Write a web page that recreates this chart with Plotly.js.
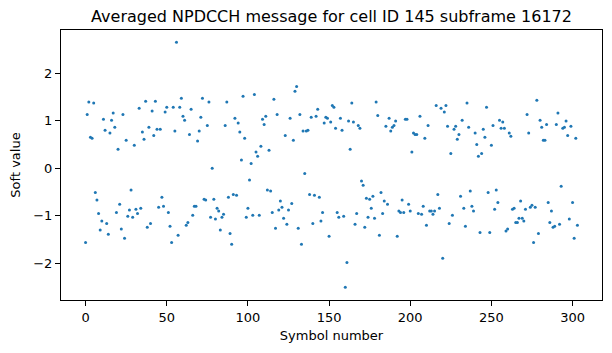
<!DOCTYPE html>
<html>
<head>
<meta charset="utf-8">
<script src="https://cdn.plot.ly/plotly-3.0.1.min.js"></script>
<style>
  html, body { margin: 0; padding: 0; background: #fff; }
  #chart { width: 612px; height: 353px; }
</style>
</head>
<body>
<div id="chart"></div>
<script>
// Soft values per symbol (symbol numbers 0..303)
const softValues = [
  -1.56, 1.13, 1.39, 0.65, 0.63, 1.37, -0.51, -0.67, -0.95, -1.30,
  -1.11, 1.03, 0.80, -1.16, -1.39, 0.74, 1.01, 1.16, 0.86, -0.93,
  0.40, -0.76, -1.28, 1.13, -1.47, 0.59, -1.01, -0.88, -0.46, -1.03,
  0.48, -0.86, -0.95, 1.26, -0.84, 0.76, 0.61, 1.41, -1.24, 0.86,
  -1.16, 1.20, 0.69, 1.41, 0.82, -0.82, 0.82, -0.61, -0.80, 1.18,
  1.28, -0.93, -1.22, -1.56, 1.28, 0.78, 2.65, -1.41, 1.28, 1.47,
  1.09, 1.01, -1.20, -1.14, 0.71, 1.24, -0.99, -0.80, -0.80, 0.57,
  0.78, 1.07, 1.47, -0.65, -0.67, 0.90, 1.39, -1.03, 0.00, -0.65,
  -1.07, -0.84, -0.90, -1.30, -1.03, -0.97, 0.90, 1.39, -0.61, -1.37,
  -1.60, -0.55, 1.05, -0.57, 0.95, 0.76, 0.17, 1.51, 0.63, -1.03,
  -0.84, -0.25, 0.10, -0.99, 1.55, 0.34, 0.25, -0.99, 0.46, 1.03,
  0.92, 1.09, -0.46, 0.38, -0.48, -0.93, 1.45, -1.26, 1.13, -0.88,
  -0.69, -0.82, -1.05, 0.69, -1.18, -0.88, 1.05, -0.74, 0.59, 1.62,
  1.72, -1.26, 1.13, -1.60, 0.78, -0.11, 0.78, 0.80, -0.55, 1.07,
  -1.16, -0.57, 1.09, 1.24, -0.61, -1.11, -0.93, 0.95, 1.07, 1.05,
  -1.43, 0.97, 1.32, 1.28, 0.84, -0.93, -1.03, 1.05, 0.80, -1.01,
  -2.50, -1.98, 0.99, 0.40, 1.37, 0.97, -1.18, -0.95, 0.90, 0.84,
  -0.27, -0.36, -1.24, -0.63, -1.03, -0.65, -0.84, -0.59, -1.05, 1.39,
  1.11, -1.41, -0.51, -0.95, -0.69, 0.88, -0.76, 1.05, 0.78, 0.86,
  0.90, 0.99, -1.43, -0.90, -0.93, -0.67, -0.93, 1.03, 1.03, -0.76,
  -0.90, 0.34, 0.74, 0.71, 0.71, -0.95, 1.09, -0.97, -0.80, 0.63,
  -1.20, 0.90, -0.90, -0.90, -0.97, -0.90, 1.32, -0.55, -0.84, 1.26,
  -1.89, 1.18, 1.32, 0.88, -1.16, 0.31, -0.99, 0.82, 0.88, 0.61,
  0.71, -0.59, 1.01, -0.84, -1.22, 1.37, 0.86, -0.48, -0.80, -0.90,
  0.74, 0.50, 0.25, -1.35, 0.31, 0.82, 0.65, 1.28, -0.51, -1.35,
  0.48, 0.90, -0.86, -0.46, -0.72, 1.01, 0.84, 0.97, 0.84, -1.32,
  -1.28, 0.74, 0.67, -0.86, -0.84, -1.14, -1.14, -1.05, -0.69, -1.05,
  -1.11, -0.86, 1.13, 0.74, -0.82, -0.78, -1.56, -0.82, 1.43, -1.37,
  1.01, 0.86, 0.59, 0.59, 0.92, -0.72, -1.14, -0.90, -1.24, -1.22,
  0.92, 1.16, -1.18, -0.38, 0.84, 0.86, 0.99, 0.69, -1.07, 0.88,
  -0.72, -1.47, 0.63, -1.20
];
const symbolNumbers = softValues.map((_, i) => i);
const xTicks = [0, 50, 100, 150, 200, 250, 300];
const yTicks = [-2, -1, 0, 1, 2];
const titleText = "Averaged NPDCCH message for cell ID 145 subframe 16172";
const xLabel = "Symbol number";
const yLabel = "Soft value";

const font = "DejaVu Sans, sans-serif";

const trace = {
  x: symbolNumbers,
  y: softValues,
  type: "scatter",
  mode: "markers",
  marker: { color: "#1f77b4", size: 3, line: { width: 0 } },
  hoverinfo: "x+y"
};

const axisCommon = {
  showgrid: false,
  zeroline: false,
  showline: true,
  mirror: true,
  linecolor: "#000",
  linewidth: 1,
  ticks: "outside",
  ticklen: 5,
  tickwidth: 1,
  tickcolor: "#000",
  tickfont: { family: font, size: 13, color: "#000" },
  automargin: false
};

const layout = {
  width: 612,
  height: 353,
  margin: { l: 61, r: 10, t: 30, b: 53, pad: 0 },
  paper_bgcolor: "#fff",
  plot_bgcolor: "#fff",
  showlegend: false,
  font: { family: font, color: "#000" },
  title: {
    text: titleText,
    font: { family: font, size: 16, color: "#000" },
    x: 0.5, xref: "paper", xanchor: "center",
    y: 1 - 16 / 353, yref: "container", yanchor: "middle"
  },
  xaxis: Object.assign({}, axisCommon, {
    range: [-15.15, 318.15],
    tickmode: "array",
    tickvals: xTicks,
    title: { text: xLabel, font: { family: font, size: 13, color: "#000" }, standoff: 7 }
  }),
  yaxis: Object.assign({}, axisCommon, {
    range: [-2.77, 2.905],
    tickmode: "array",
    tickvals: yTicks,
    title: { text: yLabel, font: { family: font, size: 13, color: "#000" }, standoff: 9 }
  })
};

Plotly.newPlot("chart", [trace], layout, { displayModeBar: false, staticPlot: true });
</script>
</body>
</html>
